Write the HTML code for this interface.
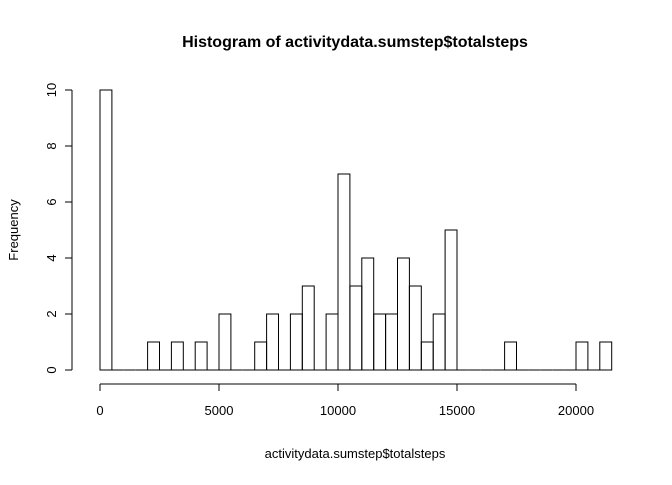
<!DOCTYPE html>
<html><head><meta charset="utf-8"><style>
body{margin:0;background:#fff}
svg text{font-family:"Liberation Sans",Arial,sans-serif;font-size:13px;fill:#000}
</style></head><body>
<svg id="c" width="672" height="480">
<text x="355" y="47" text-anchor="middle" style="font-weight:bold;font-size:16px">Histogram of activitydata.sumstep$totalsteps</text>
<text x="355" y="458" text-anchor="middle">activitydata.sumstep$totalsteps</text>
<text transform="translate(18,230) rotate(-90)" text-anchor="middle">Frequency</text>
<g id="bars"></g><g id="xa"></g><g id="ya"></g>
</svg>
<script>
const binStart = 0;
const binWidth = 500;
const counts = [10,0,0,0,1,0,1,0,1,0,2,0,0,1,2,0,2,3,0,2,7,3,4,2,2,4,3,1,2,5,0,0,0,0,1,0,0,0,0,0,1,0,1];
const xTicks = [0,5000,10000,15000,20000];
const yTicks = [0,2,4,6,8,10];
const NS="http://www.w3.org/2000/svg";
const xs=v=>100+v*(476/20000);
const ys=v=>370-v*28;
function mk(t,a,p){const e=document.createElementNS(NS,t);for(const k in a)e.setAttribute(k,a[k]);p.appendChild(e);return e;}
const bars=document.getElementById('bars');
counts.forEach((c,i)=>{
  const x0=xs(binStart+i*binWidth),x1=xs(binStart+(i+1)*binWidth);
  let r;
  if(c>0){
    r=mk('rect',{x:x0,y:ys(c),width:x1-x0,height:ys(0)-ys(c),fill:'none',stroke:'#000','stroke-width':1},bars);
  }else{
    r=mk('line',{x1:x0,x2:x1,y1:ys(0),y2:ys(0),stroke:'#000','stroke-width':1},bars);
  }
  
  
});
const xa=document.getElementById('xa');


mk('line',{x1:xs(xTicks[0]),x2:xs(xTicks[xTicks.length-1]),y1:384,y2:384,stroke:'#000'},xa);
xTicks.forEach(t=>{
  mk('line',{x1:xs(t),x2:xs(t),y1:384,y2:391,stroke:'#000'},xa);
  const tx=mk('text',{x:xs(t),y:415,'text-anchor':'middle'},xa);tx.textContent=t;
  
  
});
const ya=document.getElementById('ya');


mk('line',{x1:72,x2:72,y1:ys(yTicks[0]),y2:ys(yTicks[yTicks.length-1]),stroke:'#000'},ya);
yTicks.forEach(t=>{
  mk('line',{x1:65,x2:72,y1:ys(t),y2:ys(t),stroke:'#000'},ya);
  const tx=mk('text',{transform:`translate(56,${ys(t)}) rotate(-90)`,'text-anchor':'middle'},ya);tx.textContent=t;
  
  
});
</script>
</body></html>
